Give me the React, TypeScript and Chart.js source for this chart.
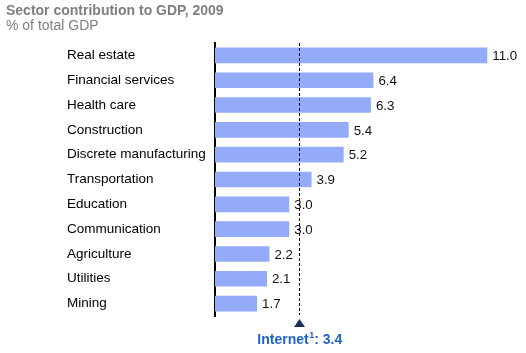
import React, { useEffect, useRef } from "react";
import { Chart, registerables } from "chart.js";

Chart.register(...registerables);

const categories = [
  "Real estate",
  "Financial services",
  "Health care",
  "Construction",
  "Discrete manufacturing",
  "Transportation",
  "Education",
  "Communication",
  "Agriculture",
  "Utilities",
  "Mining",
];
const values = [11.0, 6.4, 6.3, 5.4, 5.2, 3.9, 3.0, 3.0, 2.2, 2.1, 1.7];
const internetValue = 3.4;
const titleText = "Sector contribution to GDP, 2009";
const subtitleText = "% of total GDP";

const FONT = "'Liberation Sans', Arial, sans-serif";

const overlayPlugin = {
  id: "overlay",
  afterDatasetsDraw(chart: any) {
    const ctx = chart.ctx;
    const xs = chart.scales.x;
    const area = chart.chartArea;
    const meta = chart.getDatasetMeta(0);
    ctx.save();
    // value labels
    ctx.font = `13.3px ${FONT}`;
    ctx.fillStyle = "#111";
    ctx.textAlign = "left";
    ctx.textBaseline = "middle";
    meta.data.forEach((bar: any, i: number) => {
      ctx.fillText(values[i].toFixed(1), bar.x + 5, bar.y + 1);
    });
    // dashed internet line
    const ix = Math.round(xs.getPixelForValue(internetValue)) + 0.5;
    ctx.strokeStyle = "#000";
    ctx.lineWidth = 1;
    ctx.setLineDash([3, 2]);
    ctx.beginPath();
    ctx.moveTo(ix, area.top);
    ctx.lineTo(ix, area.bottom - 1);
    ctx.stroke();
    ctx.setLineDash([]);
    // triangle
    ctx.fillStyle = "#1b2f5e";
    ctx.beginPath();
    ctx.moveTo(ix, 319);
    ctx.lineTo(ix - 5.5, 327);
    ctx.lineTo(ix + 5.5, 327);
    ctx.closePath();
    ctx.fill();
    // internet label
    const big = `bold 14px ${FONT}`;
    const small = `bold 9px ${FONT}`;
    const p1 = "Internet";
    const p2 = "1";
    const p3 = ": " + internetValue.toFixed(1);
    ctx.font = big;
    const w1 = ctx.measureText(p1).width;
    const w3 = ctx.measureText(p3).width;
    ctx.font = small;
    const w2 = ctx.measureText(p2).width;
    const total = w1 + w2 + w3;
    let x = ix - total / 2;
    ctx.fillStyle = "#1f63c9";
    ctx.textBaseline = "alphabetic";
    ctx.textAlign = "left";
    ctx.font = big;
    ctx.fillText(p1, x, 344);
    x += w1;
    ctx.font = small;
    ctx.fillText(p2, x + 0.5, 338);
    x += w2 + 0.5;
    ctx.font = big;
    ctx.fillText(p3, x, 344);
    // titles
    ctx.fillStyle = "#7f7f7f";
    ctx.font = `bold 14px ${FONT}`;
    ctx.fillText(titleText, 6, 15);
    ctx.fillStyle = "#808080";
    ctx.font = `14px ${FONT}`;
    ctx.fillText(subtitleText, 6, 30);
    ctx.restore();
  },
};

export default function App() {
  const ref = useRef<HTMLCanvasElement>(null);
  useEffect(() => {
    if (!ref.current) return;
    const chart = new Chart(ref.current, {
      type: "bar",
      data: {
        labels: categories,
        datasets: [
          {
            data: values,
            backgroundColor: "#94abf9",
            borderWidth: 0,
            barPercentage: 0.63,
            categoryPercentage: 1,
          },
        ],
      },
      options: {
        indexAxis: "y",
        responsive: false,
        animation: false,
        layout: { padding: { left: 67, right: 14, top: 43, bottom: 37 } },
        plugins: { legend: { display: false }, tooltip: { enabled: false } },
        scales: {
          x: { display: false, min: 0, max: 12 },
          y: {
            grid: { display: false, drawTicks: false },
            border: { display: true, color: "#000", width: 2 },
            ticks: {
              crossAlign: "far",
              padding: 8,
              color: "#000",
              font: { family: FONT, size: 13.5 },
            },
            afterFit(scale: any) {
              scale.width = 148;
            },
          },
        },
      },
      plugins: [overlayPlugin],
    } as any);
    return () => chart.destroy();
  }, []);
  return (
    <div style={{ position: "fixed", left: 0, top: 0, width: 526, height: 353, background: "#fff" }}>
      <canvas ref={ref} width={526} height={353} style={{ display: "block" }} />
    </div>
  );
}
